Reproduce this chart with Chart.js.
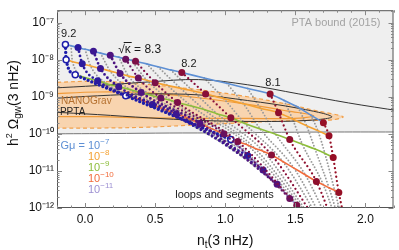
<!DOCTYPE html>
<html><head><meta charset="utf-8">
<script src="https://cdn.jsdelivr.net/npm/chart.js@4.4.1/dist/chart.umd.min.js"></script>
<style>html,body{margin:0;padding:0;background:#fff}canvas{display:block}</style>
</head><body>
<canvas id="c" width="399" height="250"></canvas>
<script>
// ---------------- data ----------------
const kappaValues = ['9.2','9.1','9.0','8.9','8.8','8.7','8.6','8.5','8.4','8.35','8.3','8.275','8.25','8.225','8.2','8.175','8.15','8.125','8.1','8.075','8.05','8.025','8.0'];
const highlightedKappa = ['9.2','9.0','8.8','8.6','8.4','8.3','8.2','8.1','8.0'];
const gmuValues = ['1e-7','1e-8','1e-9','1e-10','1e-11'];

const ntGmu1e7     = [-0.14,-0.10,-0.05,0.00,0.06,0.11,0.18,0.24,0.29,0.33,0.36,0.44,0.52,0.61,0.69,0.85,1.01,1.16,1.32,1.42,1.52,1.61,1.70];
const omegaGmu1e7  = [2.57e-8,2.36e-8,2.12e-8,1.90e-8,1.69e-8,1.50e-8,1.31e-8,1.17e-8,1.03e-8,9.6e-9,9.0e-9,7.7e-9,6.4e-9,5.3e-9,4.5e-9,3.2e-9,2.3e-9,1.66e-9,1.19e-9,7.9e-10,5.2e-10,3.2e-10,2.0e-10];
const ntGmu1e8     = [-0.135,-0.09,-0.02,0.04,0.11,0.18,0.25,0.31,0.38,0.44,0.50,0.59,0.68,0.77,0.86,0.99,1.13,1.25,1.38,1.48,1.58,1.66,1.74];
const omegaGmu1e8  = [1.0e-8,8.8e-9,7.7e-9,6.7e-9,5.8e-9,4.9e-9,4.2e-9,3.6e-9,3.2e-9,2.8e-9,2.4e-9,2.0e-9,1.71e-9,1.43e-9,1.19e-9,8.9e-10,6.5e-10,4.9e-10,3.7e-10,2.5e-10,1.66e-10,1.22e-10,8.9e-11];
const ntGmu1e9     = [-0.07,0.01,0.09,0.16,0.24,0.32,0.40,0.47,0.54,0.61,0.66,0.76,0.85,0.94,1.04,1.14,1.25,1.36,1.46,1.55,1.64,1.71,1.77];
const omegaGmu1e9  = [3.9e-9,3.2e-9,2.7e-9,2.2e-9,1.87e-9,1.56e-9,1.30e-9,1.10e-9,9.3e-10,8.0e-10,7.0e-10,5.6e-10,4.5e-10,3.5e-10,2.7e-10,1.9e-10,1.34e-10,9.7e-11,7.0e-11,5.2e-11,3.9e-11,3.0e-11,2.3e-11];
const ntGmu1e10    = [0.29,0.39,0.48,0.56,0.65,0.74,0.82,0.91,0.99,1.04,1.09,1.16,1.21,1.27,1.33,1.41,1.49,1.57,1.65,1.70,1.74,1.78,1.81];
const omegaGmu1e10 = [1.06e-9,8.4e-10,6.2e-10,4.6e-10,3.5e-10,2.6e-10,1.9e-10,1.34e-10,1.0e-10,7.9e-11,6.2e-11,5.0e-11,4.1e-11,3.4e-11,2.7e-11,1.8e-11,1.19e-11,7.9e-12,5.2e-12,4.2e-12,3.5e-12,3.0e-12,2.6e-12];
const ntGmu1e11    = [1.04,1.11,1.16,1.22,1.27,1.32,1.37,1.42,1.46,1.49,1.51,1.54,1.58,1.61,1.65,1.69,1.72,1.76,1.79,1.82,1.84,1.86,1.88];
const omegaGmu1e11 = [7.0e-11,4.1e-11,2.6e-11,1.6e-11,1.06e-11,6.6e-12,4.4e-12,2.7e-12,1.8e-12,1.43e-12,1.19e-12,9.2e-13,7.0e-13,5.5e-13,4.4e-13,3.7e-13,3.1e-13,2.7e-13,2.4e-13,2.2e-13,2.0e-13,1.9e-13,1.8e-13];

const ptaBoundNt    = [-0.25,0.2,0.6,1.0,1.4,1.8,2.25];
const ptaBoundOmega = [1.0e-10,1.02e-10,1.05e-10,1.06e-10,1.1e-10,1.12e-10,1.12e-10];

const nanogravOuterNt    = [-0.25,0.02,0.31,0.59,0.88,1.16,1.45,1.66,1.84,1.77,1.56,1.31,1.02,0.74,0.45,0.09,-0.25];
const nanogravOuterOmega = [2.4e-9,2.6e-9,2.4e-9,1.9e-9,1.43e-9,1.0e-9,6.2e-10,4.1e-10,2.9e-10,2.4e-10,2.3e-10,2.15e-10,1.9e-10,1.7e-10,1.51e-10,1.43e-10,1.43e-10];
const nanogravInnerNt    = [-0.25,0.09,0.45,0.81,1.16,1.45,1.63,1.49,1.16,0.81,0.45,0.09,-0.25];
const nanogravInnerOmega = [1.19e-9,1.34e-9,1.27e-9,9.4e-10,6.2e-10,4.1e-10,3.1e-10,2.6e-10,2.6e-10,2.6e-10,2.7e-10,2.9e-10,2.9e-10];

const pptaOuterNt    = [-0.25,0.09,0.45,0.81,1.16,1.52,1.88,2.25];
const pptaOuterOmega = [1.7e-9,2.0e-9,2.5e-9,2.9e-9,2.1e-9,1.2e-9,6.8e-10,4.1e-10];
const pptaInnerNt    = [-0.25,0.09,0.45,0.81,1.16,1.52,1.76,1.59,1.24,0.81,0.45,0.09,-0.25];
const pptaInnerOmega = [8.9e-10,1.06e-9,1.19e-9,1.12e-9,7.9e-10,4.9e-10,2.9e-10,2.3e-10,2.15e-10,2.3e-10,2.7e-10,3.3e-10,3.9e-10];

const xTickValues = [0, 0.5, 1, 1.5, 2];
const yTickExponents = [-12, -11, -10, -9, -8, -7];

// ---------------- styles ----------------
const FONT = "'Liberation Sans', Arial, sans-serif";
const gmuColors = {'1e-7':'#5d8fd4','1e-8':'#f4a233','1e-9':'#8dbd3b','1e-10':'#f26c3c','1e-11':'#9d90d2'};
const kappaColors = {'9.2':'#1c1caa','9.0':'#2b1a9e','8.8':'#3c1791','8.6':'#4f1480','8.4':'#67115f','8.3':'#7c0f47','8.2':'#880f38','8.1':'#8e0f2e','8.0':'#960f25'};

const rows = [
  {gmu:'1e-7',  nt:ntGmu1e7,  om:omegaGmu1e7},
  {gmu:'1e-8',  nt:ntGmu1e8,  om:omegaGmu1e8},
  {gmu:'1e-9',  nt:ntGmu1e9,  om:omegaGmu1e9},
  {gmu:'1e-10', nt:ntGmu1e10, om:omegaGmu1e10},
  {gmu:'1e-11', nt:ntGmu1e11, om:omegaGmu1e11}
];
const zip = (xs, ys) => xs.map((x, i) => ({x, y: ys[i]}));

const datasets = [];
datasets.push({label:'PTA bound', data:zip(ptaBoundNt, ptaBoundOmega), showLine:true, borderColor:'#767676', borderWidth:1,
  pointRadius:0, fill:'end', backgroundColor:'#efefef', tension:0.3, order:100});
datasets.push({label:'NANOGrav outer', data:zip(nanogravOuterNt, nanogravOuterOmega), showLine:true, borderColor:'#f2a04a',
  borderDash:[4,3], borderWidth:1.2, pointRadius:0, fill:'shape', backgroundColor:'rgba(252,196,140,0.65)', tension:0.35, order:95});
datasets.push({label:'NANOGrav inner', data:zip(nanogravInnerNt, nanogravInnerOmega), showLine:true, borderColor:'#f09a38',
  borderWidth:1.2, pointRadius:0, fill:false, tension:0.35, order:94});
datasets.push({label:'PPTA outer', data:zip(pptaOuterNt, pptaOuterOmega), showLine:true, borderColor:'#333',
  borderWidth:1, pointRadius:0, fill:false, tension:0.35, order:65});
datasets.push({label:'PPTA inner', data:zip(pptaInnerNt, pptaInnerOmega), showLine:true, borderColor:'#333',
  borderWidth:1, pointRadius:0, fill:false, tension:0.35, order:65});

// lines of constant Gmu
rows.forEach(r => {
  datasets.push({label:'Gmu '+r.gmu, data:zip(r.nt, r.om), showLine:true, borderColor:gmuColors[r.gmu],
    borderWidth:1.6, pointRadius:0, fill:false, cubicInterpolationMode:'monotone', order:60});
});
// lines of constant kappa
kappaValues.forEach((k, j) => {
  const pts = rows.map(r => ({x:r.nt[j], y:r.om[j]}));
  if (highlightedKappa.includes(k)) {
    const c = kappaColors[k];
    const open = k === '9.2';
    datasets.push({label:'kappa '+k, data:pts, showLine:true, borderColor:c,
      borderWidth: open ? 3.4 : (parseFloat(k) >= 8.6 ? 2.8 : 2.3),
      borderDash:[0, open ? 4 : 4.3], borderCapStyle:'round', cubicInterpolationMode:'monotone',
      pointRadius: open ? 3 : 3.5, pointBackgroundColor: open ? '#fff' : c,
      pointBorderColor:c, pointBorderWidth: open ? 1.5 : 0, fill:false, order: 50 - j});
  } else {
    datasets.push({label:'kappa '+k, data:pts, showLine:true, borderColor:'#999', borderWidth:1.9,
      borderDash:[0,3.2], borderCapStyle:'round', cubicInterpolationMode:'monotone', pointRadius:0, fill:false, order:70});
  }
});

// ---------------- text helpers ----------------
const SUP = {'-':'⁻','0':'⁰','1':'¹','2':'²','3':'³','4':'⁴','5':'⁵','6':'⁶','7':'⁷','8':'⁸','9':'⁹'};
const toSup = s => String(s).split('').map(ch => SUP[ch] || ch).join('');

function drawParts(ctx, parts, x, y, align) {
  let w = 0;
  parts.forEach(p => { ctx.font = p.size + 'px ' + FONT; p.w = ctx.measureText(p.t).width; w += p.w; });
  let cx = align === 'right' ? x - w : align === 'center' ? x - w / 2 : x;
  parts.forEach(p => {
    ctx.font = p.size + 'px ' + FONT;
    ctx.fillText(p.t, cx, y + (p.dy || 0));
    if (p.overline) {
      ctx.save(); ctx.strokeStyle = ctx.fillStyle; ctx.lineWidth = 1;
      const oy = Math.round(y - p.size * 0.95) + 0.5;
      ctx.beginPath(); ctx.moveTo(cx - 1, oy); ctx.lineTo(cx + p.w + 1, oy); ctx.stroke(); ctx.restore();
    }
    cx += p.w;
  });
}

const annotations = [
  {x:-0.171, y:4.1e-8, color:'#1a1a1a', parts:[{t:'9.2', size:11}]},
  {x:0.236, y:1.51e-8, color:'#1a1a1a', parts:[{t:'√', size:12},{t:'κ', size:12, overline:true},{t:' = 8.3', size:12}]},
  {x:0.686, y:6.2e-9, color:'#1a1a1a', parts:[{t:'8.2', size:11}]},
  {x:1.286, y:1.9e-9, color:'#1a1a1a', parts:[{t:'8.1', size:11}]},
  {x:2.107, y:7.9e-8, color:'#a3a3a3', align:'right', parts:[{t:'PTA bound (2015)', size:11}]},
  {x:-0.171, y:6.2e-10, color:'#b5702e', parts:[{t:'NANOGrav', size:10}]},
  {x:-0.179, y:3.3e-10, color:'#222', parts:[{t:'PPTA', size:10}]},
  {x:0.021, y:3.9e-11, color:gmuColors['1e-7'], align:'right', parts:[{t:'Gμ = ', size:11}]},
  {x:0.021, y:3.9e-11, color:gmuColors['1e-7'], parts:[{t:'10', size:11},{t:'−7', size:8, dy:-5}]},
  {x:0.021, y:1.97e-11, color:gmuColors['1e-8'], parts:[{t:'10', size:11},{t:'−8', size:8, dy:-5}]},
  {x:0.021, y:1.0e-11, color:gmuColors['1e-9'], parts:[{t:'10', size:11},{t:'−9', size:8, dy:-5}]},
  {x:0.021, y:5.07e-12, color:gmuColors['1e-10'], parts:[{t:'10', size:11},{t:'−10', size:8, dy:-5}]},
  {x:0.021, y:2.57e-12, color:gmuColors['1e-11'], parts:[{t:'10', size:11},{t:'−11', size:8, dy:-5}]},
  {x:0.643, y:1.91e-12, color:'#1a1a1a', parts:[{t:'loops and segments', size:11}]}
];

const textPlugin = {
  id:'texts',
  afterDatasetsDraw(chart) {
    const {ctx, scales:{x, y}} = chart;
    ctx.save();
    ctx.textBaseline = 'alphabetic'; ctx.textAlign = 'left';
    annotations.forEach(a => {
      ctx.fillStyle = a.color;
      drawParts(ctx, a.parts, x.getPixelForValue(a.x), y.getPixelForValue(a.y), a.align || 'left');
    });
    ctx.restore();
  },
  afterDraw(chart) {
    const {ctx, chartArea:a, scales:{x, y}} = chart;
    ctx.save();
    ctx.strokeStyle = '#555'; ctx.lineWidth = 1;
    ctx.strokeRect(a.left + 0.5, a.top + 0.5, a.right - a.left - 1, a.bottom - a.top - 1);
    ctx.strokeStyle = '#888';
    const seg = (x1, y1, x2, y2) => { ctx.beginPath(); ctx.moveTo(x1, y1); ctx.lineTo(x2, y2); ctx.stroke(); };
    for (let k = -2; k <= 22; k++) {
      const v = k / 10;
      if (v < x.min || v > x.max) continue;
      const px = Math.round(x.getPixelForValue(v)) + 0.5;
      const len = (k % 5 === 0) ? 5 : 2.5;
      seg(px, a.bottom, px, a.bottom - len);
      seg(px, a.top, px, a.top + len);
    }
    for (let e = -12; e <= -7; e++) for (let m = 1; m <= 9; m++) {
      const v = m * Math.pow(10, e);
      if (v < y.min || v > y.max) continue;
      const py = Math.round(y.getPixelForValue(v)) + 0.5;
      const len = m === 1 ? 5 : 2.5;
      seg(a.left, py, a.left + len, py);
      seg(a.right, py, a.right - len, py);
    }
    ctx.fillStyle = '#111'; ctx.textBaseline = 'alphabetic';
    drawParts(ctx, [{t:'n', size:14},{t:'t', size:10, dy:3},{t:'(3 nHz)', size:14}], (a.left + a.right) / 2, 245, 'center');
    ctx.save();
    ctx.translate(18, 103); ctx.rotate(-Math.PI / 2);
    drawParts(ctx, [{t:'h', size:14},{t:'2', size:9, dy:-6},{t:' Ω', size:14},{t:'gw', size:10, dy:3},{t:'(3 nHz)', size:14}], 0, 0, 'center');
    ctx.restore();
    ctx.restore();
  }
};

new Chart(document.getElementById('c'), {
  type:'scatter',
  data:{datasets},
  options:{
    responsive:false, animation:false, devicePixelRatio:1, events:[],
    layout:{padding:{left:0, right:4, top:0, bottom:0}},
    plugins:{legend:{display:false}, tooltip:{enabled:false}},
    scales:{
      x:{type:'linear', min:-0.2, max:2.2,
        afterBuildTicks: s => { s.ticks = xTickValues.map(v => ({value:v})); },
        ticks:{callback: v => Number(v).toFixed(1), font:{family:FONT, size:12}, color:'#111', padding:4, maxRotation:0, autoSkip:false},
        grid:{display:false, drawTicks:false}, border:{display:false},
        afterFit: s => { s.height = 42; }},
      y:{type:'logarithmic', min:1e-12, max:2.154e-7,
        afterBuildTicks: s => { s.ticks = yTickExponents.map(e => ({value:Math.pow(10, e)})); },
        ticks:{callback: v => '10' + toSup(Math.round(Math.log10(v))), font:{family:FONT, size:12}, color:'#111', padding:3, autoSkip:false},
        grid:{display:false, drawTicks:false}, border:{display:false},
        afterFit: s => { s.width = 57; }}
    }
  },
  plugins:[textPlugin]
});
</script>
</body></html>
